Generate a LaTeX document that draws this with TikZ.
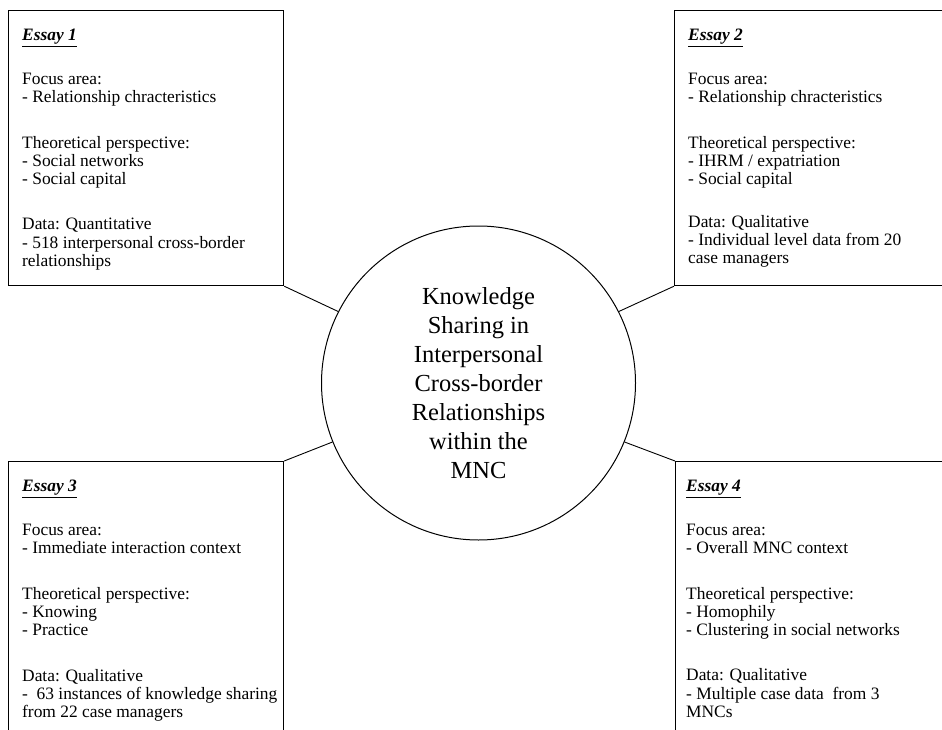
\documentclass[tikz,border=0pt]{standalone}
\usepackage{fontspec}
\setmainfont{Liberation Serif}
\begin{document}
\begin{tikzpicture}[x=1pt,y=-1pt,
  essaybox/.style={draw=black,line width=1.2pt,rectangle,anchor=north west,inner sep=0pt},
  essaytext/.style={anchor=north west,inner sep=0pt,align=left,
    font=\fontsize{17.4}{18.3}\selectfont},
  link/.style={draw=black,line width=0.9pt},
  core/.style={draw=black,line width=1pt,circle,minimum size=314pt,inner sep=0pt,
    align=center,font=\fontsize{24.5}{29}\selectfont}]
\useasboundingbox (0,0) rectangle (942,730);
\clip (0,0) rectangle (942,730);

% the four essay boxes (the right and bottom ones run past the page edge)
\node[essaybox,minimum width=275pt,minimum height=275pt] (e1) at (8,10) {};
\node[essaybox,minimum width=300pt,minimum height=275pt] (e2) at (674,10) {};
\node[essaybox,minimum width=275pt,minimum height=300pt] (e3) at (8,461) {};
\node[essaybox,minimum width=300pt,minimum height=300pt] (e4) at (675,461) {};

% central theme
\node[core] (c) at (478.5,383) {Knowledge\\Sharing in\\Interpersonal\\Cross-border\\Relationships\\within the\\MNC};

% connectors from box corners to the circle
\draw[link] (e1.south east) -- (c.153);
\draw[link] (e2.south west) -- (c.27);
\draw[link] (e3.north east) -- (c.202);
\draw[link] (e4.north west) -- (c.338);

% box contents
\node[essaytext] (t1) at ([shift={(14,19)}]e1.north west) {%
\underline{\textbf{\textit{Essay 1}}}\\[25.5pt]
Focus area:\\
- Relationship chracteristics\\[27pt]
Theoretical perspective:\\
- Social networks\\
- Social capital\\[27pt]
Data: Quantitative\\
- 518 interpersonal cross-border\\
relationships};

\node[essaytext] (t2) at ([shift={(14,19)}]e2.north west) {%
\underline{\textbf{\textit{Essay 2}}}\\[25.5pt]
Focus area:\\
- Relationship chracteristics\\[27pt]
Theoretical perspective:\\
- IHRM / expatriation\\
- Social capital\\[24pt]
Data: Qualitative\\
- Individual level data from 20\\
case managers};

\node[essaytext] (t3) at ([shift={(14,19)}]e3.north west) {%
\underline{\textbf{\textit{Essay 3}}}\\[25.5pt]
Focus area:\\
- Immediate interaction context\\[27pt]
Theoretical perspective:\\
- Knowing\\
- Practice\\[27pt]
Data: Qualitative\\
- \ 63 instances of knowledge sharing\\
from 22 case managers};

\node[essaytext] (t4) at ([shift={(11,19)}]e4.north west) {%
\underline{\textbf{\textit{Essay 4}}}\\[25.5pt]
Focus area:\\
- Overall MNC context\\[27pt]
Theoretical perspective:\\
- Homophily\\
- Clustering in social networks\\[27pt]
Data: Qualitative\\
- Multiple case data \ from 3\\
MNCs};
\end{tikzpicture}
\end{document}
